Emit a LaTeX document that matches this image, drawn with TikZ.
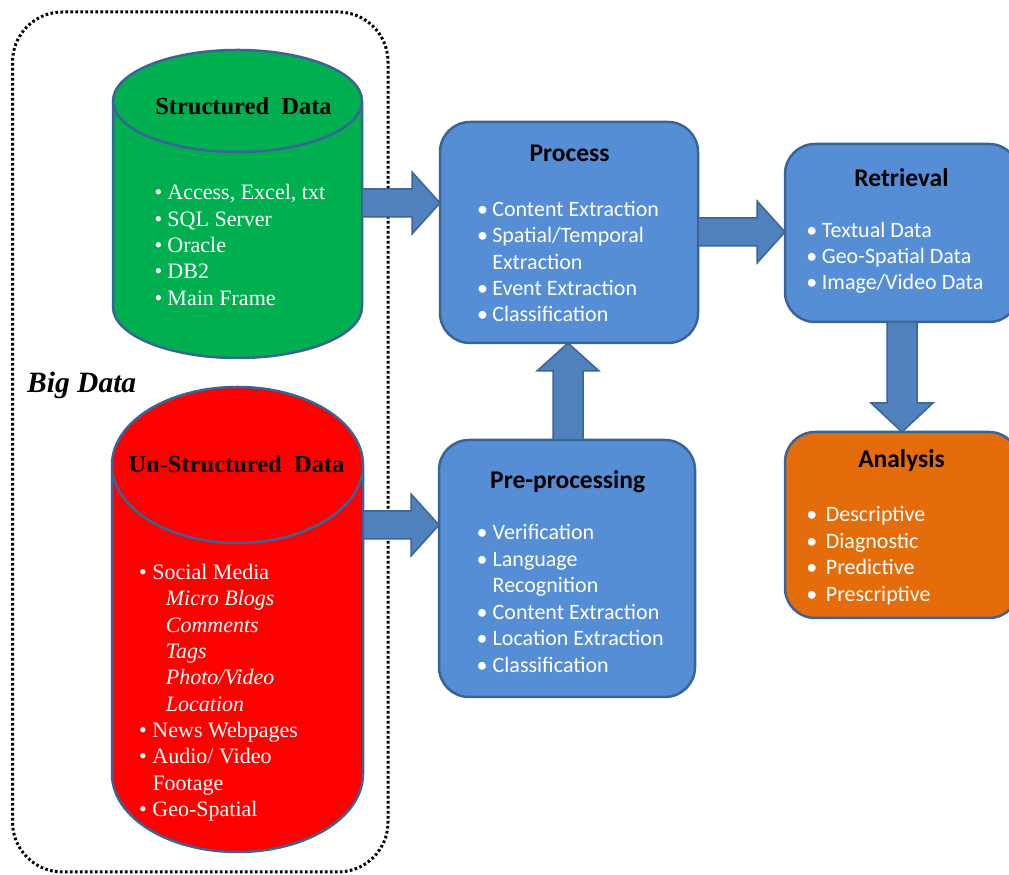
\documentclass[tikz,border=0pt]{standalone}
\usepackage{fontspec}
\setmainfont{Liberation Serif}
\newfontfamily\calib{Carlito}
\usetikzlibrary{calc}
\definecolor{boxblue}{HTML}{558ED5}
\definecolor{boxedge}{HTML}{3B6496}
\definecolor{arrowfill}{HTML}{4F81BD}
\definecolor{arrowedge}{HTML}{3A6595}
\definecolor{cylgreen}{HTML}{00B050}
\definecolor{cylred}{HTML}{FF0000}
\definecolor{orangebox}{HTML}{E46C0A}
\tikzset{
  box/.style={draw=boxedge, line width=2.5pt, rounded corners=30pt, inner sep=0pt, outer sep=0pt},
  holder/.style={inner sep=0pt, outer sep=0pt},
  frame/.style={draw=black, line width=3pt, dash pattern=on 2.6pt off 2.4pt, rounded corners=50pt, inner sep=0pt, outer sep=0pt},
  barrow/.style={fill=arrowfill, draw=arrowedge, line width=1.5pt, line join=miter},
  ptitle/.style={anchor=base, inner sep=0pt, font=\calib\fontsize{25.5}{30}\selectfont\bfseries, text=black},
  plist/.style={anchor=base west, inner sep=0pt, text=white},
  stitle/.style={anchor=base, inner sep=0pt, font=\fontsize{24.5}{29}\selectfont\bfseries, text=black},
}
\newcommand\bul[1]{\makebox[0pt]{\textbullet}\hspace{#1}}
% #1 node, #2 ry, #3 fill, #4 edge, #5 rx
\newcommand\cylinderdraw[5]{%
  \filldraw[fill=#3, draw=#4, line width=2.5pt] let \p1=(#1.north west), \p2=(#1.south east) in
    (\x1,\y1-#2pt) -- (\x1,\y2+#2pt) arc[start angle=180, end angle=360, x radius=#5pt, y radius=#2pt]
    -- (\x2,\y1-#2pt) arc[start angle=0, end angle=180, x radius=#5pt, y radius=#2pt] -- cycle
    (\x1,\y1-#2pt) arc[start angle=180, end angle=360, x radius=#5pt, y radius=#2pt];}
\newcommand\blockH[3]{%
  \draw[barrow] let \p1=(#1), \p2=(#2) in
    (\x1,#3pt+14pt) -- (\x2-28pt,#3pt+14pt) -- (\x2-28pt,#3pt+31pt) -- (\x2,#3pt)
    -- (\x2-28pt,#3pt-31pt) -- (\x2-28pt,#3pt-14pt) -- (\x1,#3pt-14pt) -- cycle;}
\newcommand\blockUp[3]{%
  \draw[barrow] let \p1=(#1), \p2=(#2) in
    (#3pt-15pt,\y1) -- (#3pt-15pt,\y2-28pt) -- (#3pt-31pt,\y2-28pt) -- (#3pt,\y2)
    -- (#3pt+31pt,\y2-28pt) -- (#3pt+15pt,\y2-28pt) -- (#3pt+15pt,\y1) -- cycle;}
\newcommand\blockDown[3]{%
  \draw[barrow] let \p1=(#1), \p2=(#2) in
    (#3pt-15pt,\y1) -- (#3pt-15pt,\y2+29pt) -- (#3pt-31pt,\y2+29pt) -- (#3pt,\y2)
    -- (#3pt+31pt,\y2+29pt) -- (#3pt+15pt,\y2+29pt) -- (#3pt+15pt,\y1) -- cycle;}
\begin{document}
\begin{tikzpicture}[x=1pt, y=1pt]
\fill[white] (0,0) rectangle (1009,875);
\useasboundingbox (0,0) rectangle (1009,875);

% Big Data frame
\node[frame, minimum width=375.5pt, minimum height=860pt] (frame) at (200.25,433) {};
\node[anchor=base west, inner sep=0pt, font=\fontsize{29.5}{34}\selectfont\bfseries\itshape] (bigl) at (27,482) {Big Data};

% cylinders
\node[holder, minimum width=249pt, minimum height=308pt] (sd) at (237.5,671) {};
\cylinderdraw{sd}{51}{cylgreen}{boxedge}{124.5}
\node[stitle] (sdt) at (243.5,760) {Structured\ \ Data};
\node[plist, font=\fontsize{22}{26.3}\selectfont] (sdl) at (158.3,675) {\begin{tabular}[t]{@{}l@{}}
\bul{9pt}Access, Excel, txt\\
\bul{9pt}SQL Server\\
\bul{9pt}Oracle\\
\bul{9pt}DB2\\
\bul{9pt}Main Frame
\end{tabular}};

\node[holder, minimum width=251pt, minimum height=465pt] (ud) at (237.5,255.5) {};
\cylinderdraw{ud}{78}{cylred}{boxedge}{125.5}
\node[stitle] (udt) at (236.5,402.3) {Un-Structured\ \ Data};
\node[plist, font=\fontsize{22}{26.38}\selectfont] (udl) at (142.7,295.7) {\begin{tabular}[t]{@{}l@{}}
\bul{9.6pt}Social Media\\
\hspace{23pt}\textit{Micro Blogs}\\
\hspace{23pt}\textit{Comments}\\
\hspace{23pt}\textit{Tags}\\
\hspace{23pt}\textit{Photo/Video}\\
\hspace{23pt}\textit{Location}\\
\bul{9.6pt}News Webpages\\
\bul{9.6pt}Audio/ Video\\
\hspace{9.6pt}Footage\\
\bul{9.6pt}Geo-Spatial
\end{tabular}};

% boxes
\node[box, fill=boxblue, minimum width=258pt, minimum height=221pt] (proc) at (569,642.5) {};
\node[ptitle] (proct) at (569.5,713.3) {Process};
\node[plist, font=\calib\fontsize{22}{26.3}\selectfont] (procl) at (482.5,658.3) {\begin{tabular}[t]{@{}l@{}}
\bul{9.6pt}Content Extraction\\
\bul{9.6pt}Spatial/Temporal\\
\hspace{9.6pt}Extraction\\
\bul{9.6pt}Event Extraction\\
\bul{9.6pt}Classification
\end{tabular}};

\node[box, fill=boxblue, minimum width=256pt, minimum height=257pt] (pre) at (567,306.5) {};
\node[ptitle] (pret) at (567.7,386.7) {Pre-processing};
\node[plist, font=\calib\fontsize{22}{26.46}\selectfont] (prel) at (482,335) {\begin{tabular}[t]{@{}l@{}}
\bul{10.5pt}Verification\\
\bul{10.5pt}Language\\
\hspace{10.5pt}Recognition\\
\bul{10.5pt}Content Extraction\\
\bul{10.5pt}Location Extraction\\
\bul{10.5pt}Classification
\end{tabular}};

\node[box, fill=boxblue, minimum width=234pt, minimum height=178pt] (ret) at (902,642) {};
\node[ptitle] (rett) at (901.5,688.3) {Retrieval};
\node[plist, font=\calib\fontsize{22}{26.35}\selectfont] (retl) at (811.7,637.7) {\begin{tabular}[t]{@{}l@{}}
\bul{10pt}Textual Data\\
\bul{10pt}Geo-Spatial Data\\
\bul{10pt}Image/Video Data
\end{tabular}};

\node[box, fill=orangebox, minimum width=234pt, minimum height=186pt] (ana) at (902,350) {};
\node[ptitle] (anat) at (901.5,407.7) {Analysis};
\node[plist, font=\calib\fontsize{22}{26.65}\selectfont] (anal) at (811.7,353.3) {\begin{tabular}[t]{@{}l@{}}
\bul{14pt}Descriptive\\
\bul{14pt}Diagnostic\\
\bul{14pt}Predictive\\
\bul{14pt}Prescriptive
\end{tabular}};

% block arrows
\blockH{sd.east}{proc.west}{672}
\blockH{ud.east}{pre.west}{350}
\blockUp{pre.north}{proc.south}{568}
\blockH{proc.east}{ret.west}{643}
\blockDown{ret.south}{ana.north}{902}
\end{tikzpicture}
\end{document}
